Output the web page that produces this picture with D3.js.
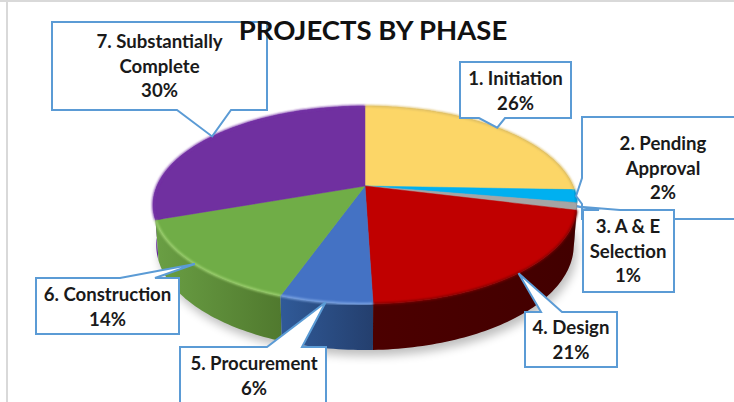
<!DOCTYPE html>
<html>
<head>
<meta charset="utf-8">
<script src="https://cdn.jsdelivr.net/npm/d3@7"></script>
<style>
  html, body { margin: 0; padding: 0; background: #fff; overflow: hidden; }
  svg { display: block; }
</style>
</head>
<body>
<script>
// -------------------- DATA --------------------
var phases = [["1. Initiation"], ["2. Pending", "Approval"], ["3. A & E", "Selection"], ["4. Design"],
              ["5. Procurement"], ["6. Construction"], ["7. Substantially", "Complete"]];
var shares = [25.6, 2.1, 1.2, 20.6, 5.9, 14.2, 30.4];

// -------------------- STYLES --------------------
var topColors  = ["#fcd667", "#00b0f0", "#a5a5a5", "#c00000", "#4472c4", "#70ad47", "#7030a0"];
var rimColors  = ["#dcbc62", "#0090c8", "#8a8a8a", "#7a0000", "#86aeea", "#a3d675", "#7432a6"];
var wallLeft   = ["#9c8230", "#006f99", "#666666", "#4c0000", "#305a98", "#6a9f44", "#64289a"];
var wallRight  = ["#7f6a24", "#005a80", "#555555", "#420000", "#243f6e", "#50792e", "#5a2490"];
var lineBlue = "#5b9bd5";

// -------------------- DIMENSIONS --------------------
var w = 734, h = 402;
var cx = 365, cy = 186;
var radiusX = 208, radiusY = 95.3, persp = 0.192;   // tilted disc with some perspective
var wallScaleX = 0.985, wallScaleY = 1.06, wallDrop = 39;

// project a pie angle (0 = top, clockwise) on to the top of the disc
function project(a) {
  var u = Math.sin(a), v = -Math.cos(a), d = 1 - persp * v;
  return [cx + radiusX * u / d, cy + radiusY * v / d];
}
// same angle on the bottom edge of the wall
function projectLow(a) {
  var p = project(a);
  return [cx + (p[0] - cx) * wallScaleX, cy + (p[1] - cy) * wallScaleY + wallDrop];
}
function arcPoints(a0, a1, fn) {
  var n = Math.max(2, Math.ceil((a1 - a0) / 0.02));
  return d3.range(n + 1).map(function(i) { return fn(a0 + (a1 - a0) * i / n); });
}

var line = d3.line();
var pie = d3.pie().sort(null).value(function(d) { return d; });
var pieData = pie(shares);

var svg = d3.select("body").append("svg").attr("width", w).attr("height", h);
var defs = svg.append("defs");
defs.append("filter").attr("id", "shadow").attr("x", "-10%").attr("y", "-10%").attr("width", "120%").attr("height", "120%")
  .append("feGaussianBlur").attr("stdDeviation", 5);
defs.append("filter").attr("id", "soft").attr("x", "-10%").attr("y", "-10%").attr("width", "120%").attr("height", "120%")
  .append("feGaussianBlur").attr("stdDeviation", 1);

// window frame of the screenshot
svg.append("rect").attr("x", 0).attr("y", 0).attr("width", w).attr("height", 2).attr("fill", "#d9d9d9");
svg.append("rect").attr("x", 6).attr("y", 0).attr("width", 2).attr("height", h).attr("fill", "#d9d9d9");

// -------------------- PIE --------------------
svg.append("path")
  .attr("d", line(arcPoints(0, 2 * Math.PI, projectLow)) + "Z")
  .attr("transform", "translate(3,6)")
  .attr("fill", "#000").attr("opacity", 0.25)
  .attr("filter", "url(#shadow)");

// walls, back to front
var wallOrder = pieData.slice().sort(function(a, b) {
  return Math.cos(b.startAngle / 2 + b.endAngle / 2) - Math.cos(a.startAngle / 2 + a.endAngle / 2);
});
wallOrder.forEach(function(d) {
  var upper = arcPoints(d.startAngle, d.endAngle, project);
  var lower = arcPoints(d.startAngle, d.endAngle, projectLow).reverse();
  var xs = upper.concat(lower).map(function(p) { return p[0]; });
  var id = "wall" + d.index;
  var grad = defs.append("linearGradient").attr("id", id)
    .attr("gradientUnits", "userSpaceOnUse")
    .attr("x1", d3.min(xs)).attr("x2", d3.max(xs)).attr("y1", 0).attr("y2", 0);
  grad.append("stop").attr("offset", 0).attr("stop-color", wallLeft[d.index]);
  grad.append("stop").attr("offset", 1).attr("stop-color", wallRight[d.index]);
  svg.append("path")
    .attr("d", line(upper.concat(lower)) + "Z")
    .attr("fill", "url(#" + id + ")");
});

// top faces
var centre = [cx, cy];
svg.selectAll("path.slice")
  .data(pieData)
  .enter()
  .append("path")
  .attr("class", "slice")
  .attr("d", function(d) { return line([centre].concat(arcPoints(d.startAngle, d.endAngle, project))) + "Z"; })
  .attr("fill", function(d) { return topColors[d.index]; })
  .attr("stroke", function(d) { return topColors[d.index]; })
  .attr("stroke-width", 0.5);

// bevel along the rim
svg.selectAll("path.rim")
  .data(pieData)
  .enter()
  .append("path")
  .attr("class", "rim")
  .attr("d", function(d) { return line(arcPoints(d.startAngle, d.endAngle, project)); })
  .attr("fill", "none")
  .attr("stroke", function(d) { return rimColors[d.index]; })
  .attr("stroke-width", 2)
  .attr("filter", "url(#soft)");

// -------------------- CALLOUTS --------------------
// box edges, side and span of the pointer base, centre of the text and its first line
var callouts = [
  { x0: 460, y0: 62,  x1: 571, y1: 118, side: "bottom", b0: 479, b1: 505, tx: 515.5, ty: 85 },
  { x0: 582, y0: 117, x1: 770, y1: 219, side: "left",   b0: 178, b1: 204, tx: 663,   ty: 150 },
  { x0: 583, y0: 210, x1: 674, y1: 292, side: "top",    b0: 599, b1: 620, tx: 628,   ty: 233 },
  { x0: 525, y0: 312, x1: 617, y1: 367, side: "top",    b0: 541, b1: 562, tx: 571,   ty: 334 },
  { x0: 180, y0: 347, x1: 326, y1: 430, side: "top",    b0: 267, b1: 302, tx: 254,   ty: 370 },
  { x0: 36,  y0: 278, x1: 179, y1: 334, side: "top",    b0: 120, b1: 155, tx: 107.5, ty: 301 },
  { x0: 52,  y0: 22,  x1: 267, y1: 110, side: "bottom", b0: 177, b1: 231, tx: 159.5, ty: 48 }
];

function calloutPath(c, tip) {
  var pts;
  if (c.side === "top") {
    pts = [[c.x0, c.y0], [c.b0, c.y0], tip, [c.b1, c.y0], [c.x1, c.y0], [c.x1, c.y1], [c.x0, c.y1]];
  } else if (c.side === "bottom") {
    pts = [[c.x0, c.y0], [c.x1, c.y0], [c.x1, c.y1], [c.b1, c.y1], tip, [c.b0, c.y1], [c.x0, c.y1]];
  } else {
    pts = [[c.x0, c.y0], [c.x1, c.y0], [c.x1, c.y1], [c.x0, c.y1], [c.x0, c.b1], tip, [c.x0, c.b0]];
  }
  return line(pts) + "Z";
}

var label = svg.selectAll("g.callout")
  .data(pieData)
  .enter()
  .append("g")
  .attr("class", "callout");

label.append("path")
  .attr("d", function(d) { return calloutPath(callouts[d.index], project((d.startAngle + d.endAngle) / 2)); })
  .attr("fill", "#fff")
  .attr("stroke", lineBlue)
  .attr("stroke-width", 2)
  .attr("stroke-linejoin", "miter");

label.append("text")
  .attr("text-anchor", "middle")
  .attr("font-family", "Lato, 'Open Sans', sans-serif")
  .attr("font-weight", 700)
  .attr("font-size", 18.6)
  .attr("fill", "#1a1a1a")
  .each(function(d) {
    var c = callouts[d.index];
    var rows = phases[d.index].concat([Math.round(d.data) + "%"]);
    d3.select(this).selectAll("tspan")
      .data(rows)
      .enter()
      .append("tspan")
      .attr("x", c.tx)
      .attr("y", function(r, i) { return c.ty + i * 24.6; })
      .text(function(r) { return r; });
  });

// -------------------- TITLE --------------------
svg.append("text")
  .attr("x", 373)
  .attr("y", 40)
  .attr("text-anchor", "middle")
  .attr("font-family", "Lato, 'Open Sans', sans-serif")
  .attr("font-weight", 700)
  .attr("font-size", 27.5)
  .attr("fill", "#111")
  .text("PROJECTS BY PHASE");
</script>
</body>
</html>
